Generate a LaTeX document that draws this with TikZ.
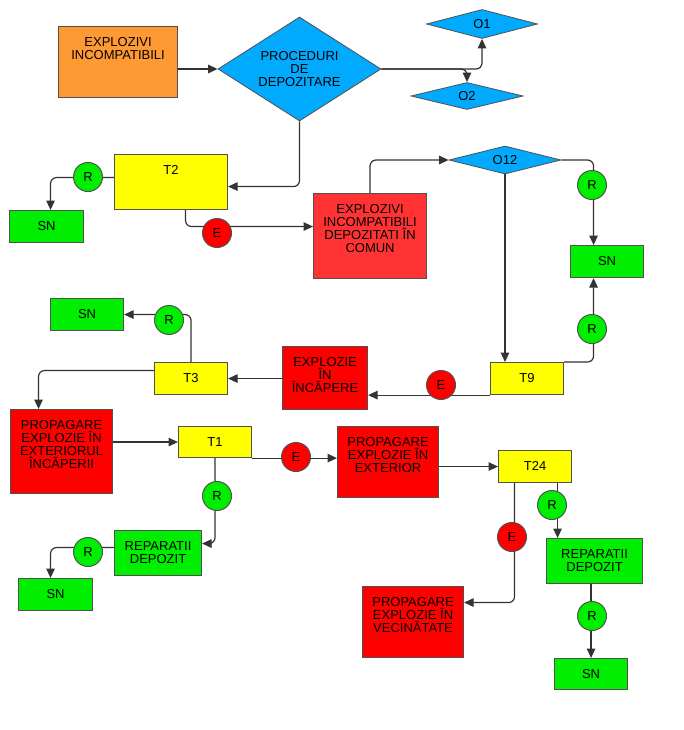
\documentclass[tikz,border=0pt]{standalone}
\usepackage{fontspec}
\setmainfont{Liberation Sans}
\usetikzlibrary{shapes.geometric,arrows.meta,backgrounds}
\definecolor{cOrange}{RGB}{255,153,51}
\definecolor{cBlue}{RGB}{0,170,255}
\definecolor{cYellow}{RGB}{255,255,0}
\definecolor{cGreen}{RGB}{0,238,0}
\definecolor{cRed}{RGB}{255,0,0}
\definecolor{cRedLight}{RGB}{255,51,51}
\definecolor{cEdge}{RGB}{80,80,80}
\definecolor{cLine}{RGB}{51,51,51}

\begin{document}
\begin{tikzpicture}[x=1pt,y=-1pt,
  font=\fontsize{13}{13}\selectfont,
  box/.style={draw=cEdge, line width=1.1pt, inner sep=0pt, anchor=north west},
  lbl/.style={anchor=north, inner sep=0pt, align=center},
  dia/.style={diamond, draw=cEdge, line width=0.8pt, fill=cBlue, inner sep=0pt, align=center},
  rnode/.style={circle, draw=cEdge, line width=1pt, fill=cGreen, minimum size=29pt, inner sep=0pt},
  enode/.style={rnode, fill=cRed},
  link/.style={draw=cLine, line width=1.2pt, rounded corners=6pt},
  arr/.style={link, -{Triangle[length=9.5pt,width=8.5pt]}},
]
\useasboundingbox (0,0) rectangle (683,730);

% ---- decision diamonds
\node[dia, aspect=1.6, minimum width=163pt, minimum height=104pt] (proc) at (299.5,69) {PROCEDURI\\DE\\DEPOZITARE};
\node[dia, aspect=3.8, minimum width=111pt, minimum height=29pt] (o1) at (482,24) {O1};
\node[dia, aspect=3.8, minimum width=112pt, minimum height=27pt] (o2) at (467,96) {O2};
\node[dia, aspect=3.8, minimum width=112pt, minimum height=28pt] (o12) at (505,160) {O12};

% ---- boxes (text sits near the top edge)
\node[box, fill=cOrange, minimum width=119pt, minimum height=71pt] (inc) at (58,26) {};
\node[lbl] (incT) at ([yshift=-11pt]inc.north) {EXPLOZIVI\\INCOMPATIBILI};

\node[box, fill=cYellow, minimum width=113pt, minimum height=55pt] (t2) at (114,154) {};
\node[lbl] (t2T) at ([yshift=-11pt]t2.north) {T2};

\node[box, fill=cGreen, minimum width=74pt, minimum height=32pt] (sn1) at (9,210) {};
\node[lbl] (sn1T) at ([yshift=-11pt]sn1.north) {SN};

\node[box, fill=cRedLight, minimum width=113pt, minimum height=85pt] (dep) at (313,193) {};
\node[lbl] (depT) at ([yshift=-11pt]dep.north) {EXPLOZIVI\\INCOMPATIBILI\\DEPOZITATI ÎN\\COMUN};

\node[box, fill=cGreen, minimum width=73pt, minimum height=32pt] (sn2) at (570,245) {};
\node[lbl] (sn2T) at ([yshift=-11pt]sn2.north) {SN};

\node[box, fill=cYellow, minimum width=73pt, minimum height=32pt] (t9) at (490,362) {};
\node[lbl] (t9T) at ([yshift=-11pt]t9.north) {T9};

\node[box, fill=cRed, minimum width=85pt, minimum height=63pt] (exin) at (282,346) {};
\node[lbl] (exinT) at ([yshift=-11pt]exin.north) {EXPLOZIE\\ÎN\\ÎNCĂPERE};

\node[box, fill=cYellow, minimum width=73pt, minimum height=32pt] (t3) at (154,362) {};
\node[lbl] (t3T) at ([yshift=-11pt]t3.north) {T3};

\node[box, fill=cGreen, minimum width=73pt, minimum height=32pt] (sn3) at (50,298) {};
\node[lbl] (sn3T) at ([yshift=-11pt]sn3.north) {SN};

\node[box, fill=cRed, minimum width=102pt, minimum height=84pt] (prop1) at (10,409) {};
\node[lbl] (prop1T) at ([yshift=-11pt]prop1.north) {PROPAGARE\\EXPLOZIE ÎN\\EXTERIORUL\\ÎNCĂPERII};

\node[box, fill=cYellow, minimum width=73pt, minimum height=31pt] (t1) at (178,426) {};
\node[lbl] (t1T) at ([yshift=-11pt]t1.north) {T1};

\node[box, fill=cRed, minimum width=101pt, minimum height=71pt] (prop2) at (337,426) {};
\node[lbl] (prop2T) at ([yshift=-11pt]prop2.north) {PROPAGARE\\EXPLOZIE ÎN\\EXTERIOR};

\node[box, fill=cYellow, minimum width=73pt, minimum height=32pt] (t24) at (498,450) {};
\node[lbl] (t24T) at ([yshift=-11pt]t24.north) {T24};

\node[box, fill=cGreen, minimum width=87pt, minimum height=45pt] (rep1) at (114,530) {};
\node[lbl] (rep1T) at ([yshift=-11pt]rep1.north) {REPARATII\\DEPOZIT};

\node[box, fill=cGreen, minimum width=74pt, minimum height=32pt] (sn4) at (18,578) {};
\node[lbl] (sn4T) at ([yshift=-11pt]sn4.north) {SN};

\node[box, fill=cRed, minimum width=101pt, minimum height=71pt] (prop3) at (362,586) {};
\node[lbl] (prop3T) at ([yshift=-11pt]prop3.north) {PROPAGARE\\EXPLOZIE ÎN\\VECINĂTATE};

\node[box, fill=cGreen, minimum width=96pt, minimum height=45pt] (rep2) at (546,538) {};
\node[lbl] (rep2T) at ([yshift=-11pt]rep2.north) {REPARATII\\DEPOZIT};

\node[box, fill=cGreen, minimum width=73pt, minimum height=31pt] (sn5) at (554,658) {};
\node[lbl] (sn5T) at ([yshift=-11pt]sn5.north) {SN};

% ---- connectors, kept beneath the R/E markers
\begin{scope}[on background layer]
\fill[white] (0,0) rectangle (683,730);
\draw[arr] (inc.east |- proc.west) -- (proc.west);
\draw[arr] (proc.east) -| (o1.south);
\draw[arr] (proc.east) -| (o2.north);
\draw[arr] (proc.south) |- ([yshift=-4.5pt]t2.east);
\draw[arr] ([yshift=4.5pt]t2.west) -| ([xshift=4pt]sn1.north);
\draw[arr] ([xshift=14.5pt]t2.south) |- ([yshift=9.5pt]dep.west);
\draw[arr] (dep.north) |- (o12.west);
\draw[arr] (o12.east) -| ([xshift=-13.5pt]sn2.north);
\draw[arr] (o12.south) -- (o12.south |- t9.north);
\draw[arr] (t9.north east) -| ([xshift=-13.5pt]sn2.south);
\draw[arr] (t9.south west) -- (exin.east |- t9.south west);
\draw[arr] (exin.west |- t3.east) -- (t3.east);
\draw[arr] (t3.north) |- (sn3.east);
\draw[arr] ([yshift=8pt]t3.west) -| ([xshift=-23pt]prop1.north);
\draw[arr] (prop1.east |- t1.west) -- (t1.west);
\draw[arr] (t1.south east) -- (t1.south east -| prop2.west);
\draw[arr] (t1.south) |- ([yshift=9.5pt]rep1.east);
\draw[arr] ([yshift=5.5pt]rep1.west) -| ([xshift=-5pt]sn4.north);
\draw[arr] (prop2.east |- t24.west) -- (t24.west);
\draw[arr] ([xshift=-20.5pt]t24.south) |- ([yshift=19.5pt]prop3.east);
\draw[arr] ([xshift=22.5pt]t24.south) -- ([xshift=22.5pt]t24.south |- rep2.north);
\draw[arr] (sn5.north |- rep2.south) -- (sn5.north);
\end{scope}

% ---- R / E markers on the connectors
\node[rnode] (r1) at (88,177) {R};
\node[enode] (e1) at (217,233) {E};
\node[rnode] (r2) at (592,185) {R};
\node[rnode] (r3) at (592,329) {R};
\node[enode] (e2) at (441,385) {E};
\node[rnode] (r4) at (169,320) {R};
\node[rnode] (r5) at (217,496) {R};
\node[enode] (e3) at (296,457) {E};
\node[rnode] (r6) at (88,552) {R};
\node[enode] (e4) at (512,537) {E};
\node[rnode] (r7) at (552,505) {R};
\node[rnode] (r8) at (592,616) {R};
\end{tikzpicture}
\end{document}
